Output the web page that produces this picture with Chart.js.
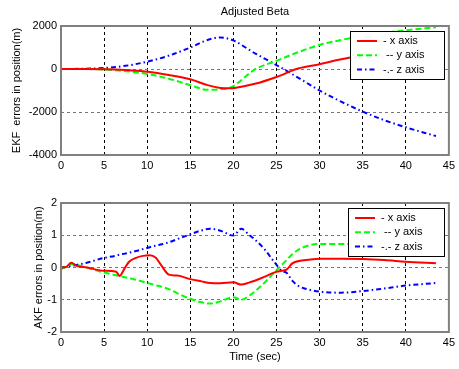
<!DOCTYPE html>
<html>
<head>
<meta charset="utf-8">
<title>Adjusted Beta</title>
<script src="https://cdn.jsdelivr.net/npm/chart.js@4.4.0/dist/chart.umd.min.js"></script>
<style>
  body { margin: 0; background: #fff; }
  canvas { display: block; }
</style>
</head>
<body>
<canvas id="ekfChart" width="459" height="180"></canvas>
<canvas id="akfChart" width="459" height="189"></canvas>
<script>
// legend texts (same for both plots)
var legendLabels = ["- x axis", " -- y axis", "-.- z axis"];

// EKF (top plot), errors in metres
var ekfTime = [0, 2.5, 5, 7.5, 10, 12.5, 15, 17, 18.5, 19.5, 20, 22.5, 25, 27.5, 30, 32.5, 35, 37.5, 40, 43.5];
var ekfX = [0, 0, -10, -50, -130, -280, -480, -750, -880, -900, -890, -690, -370, 20, 220, 450, 620, 780, 900, 1020];
var ekfY = [0, 0, -20, -100, -230, -450, -750, -970, -940, -890, -800, -20, 380, 780, 1120, 1350, 1530, 1680, 1800, 1940];
var ekfZ = [0, 10, 50, 150, 340, 620, 1000, 1350, 1470, 1400, 1330, 730, 180, -400, -1000, -1520, -1980, -2380, -2710, -3120];
var ekfTicksY = [-4000, 2000, 2000]; // min, max, step

// AKF (bottom plot)
var akfTime = [0, 0.6, 1.2, 1.8, 3, 4.9, 6.4, 6.8, 7.4, 7.9, 8.7, 9.5, 10.3, 11, 11.7, 12.5, 13.5, 15, 16.3, 17.3, 18.5, 20, 20.9, 21.8, 23.5, 24.8, 25.6, 26.2, 26.8, 27.6, 28.7, 30, 32.5, 35, 37.5, 40, 43.5];
var akfX = [0, 0.02, 0.15, 0.05, 0, -0.1, -0.13, -0.26, -0.02, 0.18, 0.3, 0.36, 0.38, 0.3, 0.04, -0.22, -0.25, -0.36, -0.43, -0.48, -0.49, -0.46, -0.53, -0.47, -0.3, -0.15, -0.1, -0.06, 0.12, 0.2, 0.24, 0.27, 0.27, 0.26, 0.23, 0.18, 0.13];
var akfY = [-0.05, 0.02, 0.1, 0.08, 0, -0.15, -0.24, -0.27, -0.3, -0.33, -0.38, -0.44, -0.5, -0.55, -0.6, -0.67, -0.8, -0.97, -1.08, -1.12, -1.05, -0.92, -1.0, -0.88, -0.5, -0.14, 0.07, 0.24, 0.4, 0.56, 0.68, 0.73, 0.73, 0.72, 0.7, 0.68, 0.66];
var akfZ = [0, 0.02, 0.05, 0.08, 0.15, 0.29, 0.37, 0.4, 0.43, 0.46, 0.51, 0.57, 0.63, 0.68, 0.72, 0.78, 0.88, 1.03, 1.15, 1.2, 1.14, 0.99, 1.2, 1.02, 0.6, 0.15, -0.1, -0.17, -0.4, -0.58, -0.68, -0.75, -0.78, -0.73, -0.65, -0.56, -0.48];
var akfTicksY = [-2, 2, 1];

var timeTicks = [0, 45, 5];

Chart.defaults.font.family = 'Arial, "Liberation Sans", sans-serif';
Chart.defaults.font.size = 11;
Chart.defaults.color = "#000";

function toPoints(t, v) {
  var pts = [];
  for (var i = 0; i < t.length; i++) {
    pts.push({x: t[i], y: v[i]});
  }
  return pts;
}

// grey box round the axes, matlab style legend and the title
var frame = {
  id: "frame",
  afterDraw: function(chart, args, opts) {
    var ctx = chart.ctx;
    var a = chart.chartArea;
    ctx.save();
    ctx.setLineDash([]);
    ctx.strokeStyle = "#808080";
    ctx.lineWidth = 2;
    ctx.strokeRect(a.left, a.top, a.right - a.left, a.bottom - a.top);

    var w = opts.legendWidth, h = 48;
    var lx = Math.round(a.right - 5 - w), ly = Math.round(a.top + 5);
    ctx.fillStyle = "#fff";
    ctx.fillRect(lx, ly, w, h);
    ctx.strokeStyle = "#000";
    ctx.lineWidth = 1;
    ctx.strokeRect(lx + 0.5, ly + 0.5, w, h);
    ctx.font = '11px Arial, "Liberation Sans", sans-serif';
    ctx.textBaseline = "middle";
    chart.data.datasets.forEach(function(ds, i) {
      var y = ly + 10 + i * 14.3;
      ctx.strokeStyle = ds.borderColor;
      ctx.lineWidth = 2;
      ctx.setLineDash(ds.borderDash);
      ctx.beginPath();
      ctx.moveTo(lx + 7, y);
      ctx.lineTo(lx + 27, y);
      ctx.stroke();
      ctx.fillStyle = "#000";
      ctx.fillText(ds.label, lx + 33, y);
    });

    if (opts.title) {
      ctx.textAlign = "center";
      ctx.fillText(opts.title, (a.left + a.right) / 2, 11.5);
    }
    ctx.restore();
  }
};

function makeChart(id, t, xs, ys, zs, yTicks, cfg) {
  return new Chart(document.getElementById(id), {
    type: "line",
    data: {
      datasets: [
        {label: legendLabels[0], data: toPoints(t, xs), borderColor: "#ff0000", borderDash: []},
        {label: legendLabels[1], data: toPoints(t, ys), borderColor: "#00ff00", borderDash: [6, 3]},
        {label: legendLabels[2], data: toPoints(t, zs), borderColor: "#0000ff", borderDash: [5, 3, 1.5, 3]}
      ]
    },
    options: {
      responsive: false,
      animation: false,
      layout: {padding: cfg.padding},
      elements: {
        point: {radius: 0},
        line: {borderWidth: 2, cubicInterpolationMode: "monotone"}
      },
      plugins: {
        legend: {display: false},
        tooltip: {enabled: false},
        frame: {legendWidth: cfg.legendWidth, title: cfg.title}
      },
      scales: {
        x: {
          type: "linear",
          min: timeTicks[0],
          max: timeTicks[1],
          ticks: {stepSize: timeTicks[2], padding: 4, maxRotation: 0, callback: function(v) { return String(v); }},
          grid: {color: "#000", drawTicks: false},
          border: {display: false, dash: [3, 3]},
          title: {display: !!cfg.xTitle, text: cfg.xTitle, padding: 0},
          afterFit: function(s) { s.height = cfg.xHeight; }
        },
        y: {
          min: yTicks[0],
          max: yTicks[1],
          ticks: {stepSize: yTicks[2], padding: 4, callback: function(v) { return String(v); }},
          grid: {color: "#777", drawTicks: false},
          border: {display: false, dash: [3, 3]},
          title: {display: true, text: cfg.yTitle, padding: 0},
          afterFit: function(s) { s.width = cfg.yWidth; }
        }
      }
    },
    plugins: [frame]
  });
}

makeChart("ekfChart", ekfTime, ekfX, ekfY, ekfZ, ekfTicksY, {
  padding: {top: 26, left: 10, right: 8, bottom: 0},
  yWidth: 51,
  xHeight: 25,
  yTitle: "EKF  errors in position(m)",
  legendWidth: 94,
  title: "Adjusted Beta"
});

makeChart("akfChart", akfTime, akfX, akfY, akfZ, akfTicksY, {
  padding: {top: 23, left: 32, right: 8, bottom: 5},
  yWidth: 29,
  xHeight: 32,
  yTitle: "AKF errors in position(m)",
  xTitle: "Time (sec)",
  legendWidth: 96
});
</script>
</body>
</html>
